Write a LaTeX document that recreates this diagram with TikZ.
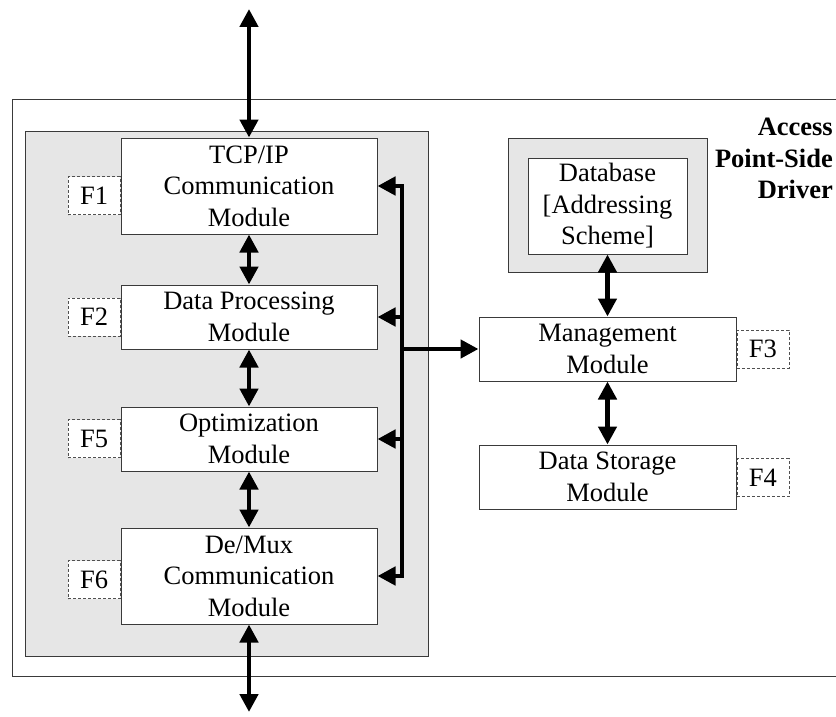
\documentclass[tikz,border=0pt]{standalone}
\usepackage{fontspec}
\setmainfont{Liberation Serif}
\usetikzlibrary{arrows.meta}
\definecolor{panelgray}{HTML}{E6E6E6}
\definecolor{edgegray}{HTML}{3A3A3A}
\definecolor{dashgray}{HTML}{505050}
\begin{document}
\begin{tikzpicture}[x=1pt,y=-1pt,
  txt/.style={font=\fontsize{26.5}{31.5}\selectfont},
  module/.style={txt,draw=edgegray,line width=1pt,fill=white,align=center,inner sep=0pt},
  fbox/.style={txt,draw=dashgray,line width=0.8pt,dash pattern=on 3pt off 2pt,fill=white,inner sep=0pt,minimum width=52pt,minimum height=38pt},
  tip/.tip={Triangle[length=18pt,width=18pt]},
  link/.style={line width=4.5pt,line join=miter,tip-tip},
  feed/.style={line width=4.5pt,-tip}
]
\useasboundingbox (0,0) rectangle (836,717);

% driver enclosure and grey panel of the protocol stack
\draw[draw=edgegray,line width=1pt] (12,100) rectangle (850,676);
\draw[draw=edgegray,line width=1pt,fill=panelgray] (25,131) rectangle (428,656);

% protocol stack
\node[module,minimum width=256pt,minimum height=96pt] (tcp) at (249,186) {TCP/IP\\Communication\\Module};
\node[module,minimum width=256pt,minimum height=64pt] (dp) at (249,317) {Data Processing\\Module};
\node[module,minimum width=256pt,minimum height=64pt] (opt) at (249,439) {Optimization\\Module};
\node[module,minimum width=256pt,minimum height=96pt] (dmx) at (249,576) {De/Mux\\Communication\\Module};

\node[fbox,anchor=east] (f1) at (tcp.west |- 0,195.5) {F1};
\node[fbox,anchor=east] (f2) at (dp.west |- 0,317) {F2};
\node[fbox,anchor=east] (f5) at (opt.west |- 0,438.5) {F5};
\node[fbox,anchor=east] (f6) at (dmx.west |- 0,579.5) {F6};

% database in its grey frame
\node[draw=edgegray,line width=1pt,fill=panelgray,minimum width=199pt,minimum height=134pt,inner sep=0pt] (dbframe) at (607.5,205) {};
\node[module,minimum width=159pt,minimum height=96pt] (db) at (607.5,206) {Database\\{[}Addressing\\Scheme{]}};

% management side
\node[module,minimum width=257pt,minimum height=64pt] (mgmt) at (607.5,349) {Management\\Module};
\node[module,minimum width=257pt,minimum height=64pt] (store) at (607.5,477) {Data Storage\\Module};
\node[fbox,anchor=west] (f3) at (mgmt.east |- 0,349) {F3};
\node[fbox,anchor=west] (f4) at (store.east |- 0,477.5) {F4};

% title
\node[txt,font=\fontsize{26.5}{31.5}\selectfont\bfseries,align=right,anchor=north east,inner sep=0pt] (title) at (833,118) {Access\\Point-Side\\Driver};

% external links
\coordinate (topend) at (249,9);
\coordinate (botend) at (249,712);
\draw[link] (topend) -- (tcp.north);
\draw[link] (dmx.south) -- (botend);

% links inside the stack
\draw[link] (tcp.south) -- (dp.north);
\draw[link] (dp.south) -- (opt.north);
\draw[link] (opt.south) -- (dmx.north);

% control bus from the management module
\coordinate (bus) at (402,0);
\draw[link] (tcp.east) -| (bus |- dmx.east) -- (dmx.east);
\draw[feed] (bus |- dp.east) -- (dp.east);
\draw[feed] (bus |- opt.east) -- (opt.east);
\draw[feed] (bus |- mgmt.west) -- (mgmt.west);

% management links
\draw[link] (db.south) -- (mgmt.north);
\draw[link] (mgmt.south) -- (store.north);
\end{tikzpicture}
\end{document}
